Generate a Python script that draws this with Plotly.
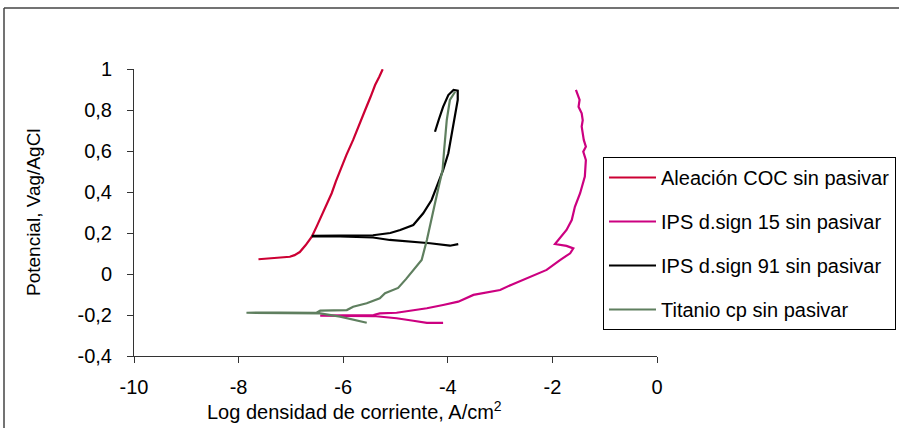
import plotly.graph_objects as go

# ---------------- data ----------------
coc_x = [-7.62, -7.45, -7.30, -7.15, -7.02, -6.93, -6.83, -6.72, -6.60, -6.50, -6.41,
         -6.31, -6.22, -6.14, -6.06, -5.94, -5.81, -5.70, -5.58, -5.48, -5.39, -5.31, -5.245]
coc_y = [0.072, 0.076, 0.078, 0.080, 0.084, 0.092, 0.107, 0.140, 0.182, 0.236, 0.288,
         0.342, 0.394, 0.452, 0.507, 0.580, 0.654, 0.728, 0.800, 0.862, 0.922, 0.962, 0.999]

ips15_x = [-4.09, -4.40, -4.66, -4.98, -5.42, -6.00, -6.44, -6.00, -5.42, -5.30, -4.98,
           -4.72, -4.40, -4.09, -3.80, -3.51, -3.25, -3.00, -2.78, -2.56, -2.32, -2.11,
           -1.855, -1.66, -1.60, -1.73, -1.95, -1.855, -1.73, -1.63, -1.57, -1.47,
           -1.38, -1.36, -1.41, -1.36, -1.40, -1.44, -1.42, -1.44, -1.50, -1.48,
           -1.535, -1.55]
ips15_y = [-0.238, -0.238, -0.228, -0.216, -0.205, -0.203, -0.203, -0.202, -0.200, -0.192,
           -0.189, -0.179, -0.167, -0.151, -0.135, -0.102, -0.090, -0.078, -0.052, -0.029,
           -0.005, 0.020, 0.068, 0.101, 0.125, 0.137, 0.146, 0.174, 0.215, 0.263, 0.328,
           0.394, 0.475, 0.556, 0.597, 0.621, 0.654, 0.719, 0.750, 0.784, 0.816, 0.850,
           0.881, 0.898]

ips91_x = [-3.80, -3.96, -4.34, -4.79, -5.11, -5.43, -6.06, -6.58, -6.58, -6.06, -5.43,
           -5.10, -4.91, -4.66, -4.47, -4.31, -4.18, -4.09, -3.99, -3.93, -3.88, -3.81,
           -3.81, -3.89, -3.99, -4.09, -4.17, -4.245]
ips91_y = [0.146, 0.138, 0.150, 0.158, 0.166, 0.178, 0.183, 0.183, 0.186, 0.187, 0.189,
           0.200, 0.215, 0.239, 0.296, 0.361, 0.442, 0.507, 0.589, 0.670, 0.735, 0.849,
           0.894, 0.898, 0.873, 0.815, 0.755, 0.694]

ti_x = [-5.55, -5.87, -6.06, -6.44, -7.02, -7.85, -7.21, -6.51, -6.44, -5.93, -5.81,
        -5.55, -5.30, -5.20, -5.04, -4.95, -4.80, -4.66, -4.50, -4.40, -4.34, -4.245,
        -4.16, -4.10, -4.07, -4.02, -3.96, -3.86]
ti_y = [-0.238, -0.221, -0.208, -0.192, -0.190, -0.189, -0.188, -0.189, -0.179, -0.176,
        -0.160, -0.143, -0.119, -0.094, -0.078, -0.068, -0.025, 0.020, 0.068, 0.166,
        0.231, 0.345, 0.442, 0.507, 0.605, 0.751, 0.849, 0.889]

series_names = ["Aleación COC sin pasivar", "IPS d.sign 15 sin pasivar",
                "IPS d.sign 91 sin pasivar", "Titanio cp sin pasivar"]
series_colors = ["#CC0033", "#CC0080", "#000000", "#5F7F5F"]

x_tickvals = [-10, -8, -6, -4, -2, 0]
x_ticktext = ["-10", "-8", "-6", "-4", "-2", "0"]
y_tickvals = [-0.4, -0.2, 0, 0.2, 0.4, 0.6, 0.8, 1.0]
y_ticktext = ["-0,4", "-0,2", "0", "0,2", "0,4", "0,6", "0,8", "1"]

x_title = "Log densidad de corriente, A/cm<sup>2</sup>"
y_title = "Potencial, Vag/AgCl"

# ---------------- figure ----------------
W, H = 899, 428
L, R, T, B = 134, 242, 69, 72
pw, ph = W - L - R, H - T - B


def px_x(px):
    return (px - L) / pw


def px_y(py):
    return (H - B - py) / ph


fig = go.Figure()
all_x = [coc_x, ips15_x, ips91_x, ti_x]
all_y = [coc_y, ips15_y, ips91_y, ti_y]
for i in range(4):
    fig.add_trace(go.Scatter(
        x=all_x[i], y=all_y[i], mode="lines", name=series_names[i],
        legendgroup="g%d" % i,
        line=dict(color=series_colors[i], width=2.2),
    ))

font_fam = "Liberation Sans, Arial, sans-serif"

fig.update_layout(
    width=W, height=H,
    margin=dict(l=L, r=R, t=T, b=B, autoexpand=False),
    paper_bgcolor="white", plot_bgcolor="white",
    font=dict(family=font_fam, color="black", size=20),
    showlegend=True,
    legend=dict(
        x=px_x(603), y=px_y(157), xanchor="left", yanchor="top",
        bordercolor="black", borderwidth=1, bgcolor="white",
        font=dict(size=20, family=font_fam, color="black"),
        tracegroupgap=15, itemwidth=47,
    ),
    xaxis=dict(
        range=[-10, 0], tickvals=x_tickvals, ticktext=x_ticktext,
        showgrid=False, zeroline=False, showline=True, linecolor="#333333", linewidth=1,
        ticks="outside", ticklen=6, tickcolor="#333333",
        tickfont=dict(size=20), ticklabelstandoff=7,
    ),
    yaxis=dict(
        range=[-0.4, 1.0], tickvals=y_tickvals, ticktext=y_ticktext,
        showgrid=False, zeroline=False, showline=True, linecolor="#333333", linewidth=1,
        ticks="outside", ticklen=6, tickcolor="#333333",
        tickfont=dict(size=20), ticklabelstandoff=11,
    ),
    annotations=[
        dict(text=x_title, xref="paper", yref="paper", x=px_x(354), y=px_y(410),
             xanchor="center", yanchor="middle", showarrow=False,
             font=dict(size=20, family=font_fam, color="black")),
        dict(text=y_title, xref="paper", yref="paper", x=px_x(33), y=px_y(212),
             xanchor="center", yanchor="middle", showarrow=False, textangle=-90,
             font=dict(size=19, family=font_fam, color="black")),
    ],
    shapes=[
        dict(type="line", xref="paper", yref="paper",
             x0=px_x(4), x1=px_x(899), y0=px_y(8), y1=px_y(8),
             line=dict(color="#444444", width=1.5)),
        dict(type="line", xref="paper", yref="paper",
             x0=px_x(4), x1=px_x(4), y0=px_y(8), y1=px_y(430),
             line=dict(color="#444444", width=1.5)),
    ],
)

fig.write_html("out.html", config={"displayModeBar": False},
               post_script="document.body.style.margin='0';")
